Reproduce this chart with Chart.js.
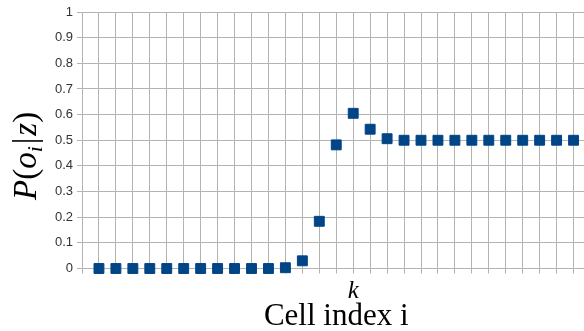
<!DOCTYPE html>
<html>
<head>
<meta charset="utf-8">
<script src="https://cdn.jsdelivr.net/npm/chart.js@4"></script>
<style>
  html, body { margin: 0; padding: 0; background: #fff; overflow: hidden; }
  #wrap { width: 600px; height: 331px; position: relative; }
</style>
</head>
<body>
<div id="wrap"><canvas id="chart"></canvas></div>
<script>
// Cell index (x) and probability P(o_i|z) (y)
const cellIndex = [1, 2, 3, 4, 5, 6, 7, 8, 9, 10, 11, 12, 13, 14, 15, 16, 17, 18, 19, 20, 21, 22, 23, 24, 25, 26, 27, 28, 29];
const probValues = [0, 0, 0, 0, 0, 0, 0, 0, 0, 0, 0, 0.003, 0.03, 0.184, 0.482, 0.605, 0.543, 0.506, 0.5, 0.5, 0.5, 0.5, 0.5, 0.5, 0.5, 0.5, 0.5, 0.5, 0.5];
const kIndex = 16;
const yTicks = [0, 0.1, 0.2, 0.3, 0.4, 0.5, 0.6, 0.7, 0.8, 0.9, 1];

const gridColor = '#b3b3b3';
const markColor = '#004586';
const serif = "'Liberation Serif', 'Times New Roman', serif";

// y axis title with a subscript: P(o_i|z)
const yTitlePlugin = {
  id: 'yTitle',
  afterDraw(chart) {
    const ctx = chart.ctx;
    const parts = [
      { t: 'P', style: 'italic', size: 33, dy: 0 },
      { t: '(', style: 'normal', size: 33, dy: 0 },
      { t: 'o', style: 'italic', size: 33, dy: 0 },
      { t: 'i', style: 'italic', size: 22, dy: 6 },
      { t: '|', style: 'normal', size: 33, dy: 0 },
      { t: 'z', style: 'italic', size: 33, dy: 0 },
      { t: ')', style: 'normal', size: 33, dy: 0 },
    ];
    ctx.save();
    ctx.translate(36, 200);
    ctx.rotate(-Math.PI / 2);
    ctx.fillStyle = '#000';
    ctx.textBaseline = 'alphabetic';
    ctx.textAlign = 'left';
    let x = 0;
    parts.forEach(p => {
      ctx.font = `${p.style} ${p.size}px ${serif}`;
      ctx.fillText(p.t, x, p.dy);
      x += ctx.measureText(p.t).width + (p.t === '|' || p.t === 'i' ? 2 : 0);
    });
    ctx.restore();
  }
};

new Chart(document.getElementById('chart'), {
  type: 'scatter',
  data: {
    datasets: [{
      data: cellIndex.map((c, i) => ({ x: c, y: probValues[i] })),
      pointStyle: 'rect',
      pointRadius: 7,
      pointHoverRadius: 7,
      backgroundColor: markColor,
      borderColor: markColor,
      borderWidth: 1,
      showLine: false,
      clip: false,
    }]
  },
  options: {
    responsive: true,
    maintainAspectRatio: false,
    animation: false,
    events: [],
    layout: { padding: { top: 12, right: 9.5, left: 0, bottom: 0 } },
    plugins: { legend: { display: false }, tooltip: { enabled: false } },
    scales: {
      x: {
        type: 'linear',
        min: 0,
        max: 30,
        afterFit: s => { s.height = 62.5; },
        afterBuildTicks: s => { s.ticks = Array.from({ length: 31 }, (_, i) => ({ value: i })); },
        grid: { color: gridColor, lineWidth: 1, tickLength: 5, drawTicks: true },
        border: { color: gridColor },
        ticks: {
          autoSkip: false,
          maxRotation: 0,
          padding: 3,
          color: '#000',
          font: { family: serif, size: 25, style: 'italic' },
          callback: v => (v === kIndex ? 'k' : '')
        },
        title: {
          display: true,
          text: 'Cell index i',
          color: '#000',
          font: { family: serif, size: 31, lineHeight: 0.94 },
          padding: 0
        }
      },
      y: {
        min: 0,
        max: 1,
        afterFit: s => { s.width = 82; },
        afterBuildTicks: s => { s.ticks = yTicks.map(v => ({ value: v })); },
        grid: { color: gridColor, lineWidth: 1, tickLength: 5 },
        border: { color: gridColor },
        ticks: {
          padding: 4,
          color: '#333',
          font: { family: "'Liberation Sans', Arial, sans-serif", size: 13 },
          callback: v => String(Math.round(v * 10) / 10)
        }
      }
    }
  },
  plugins: [yTitlePlugin]
});
</script>
</body>
</html>
